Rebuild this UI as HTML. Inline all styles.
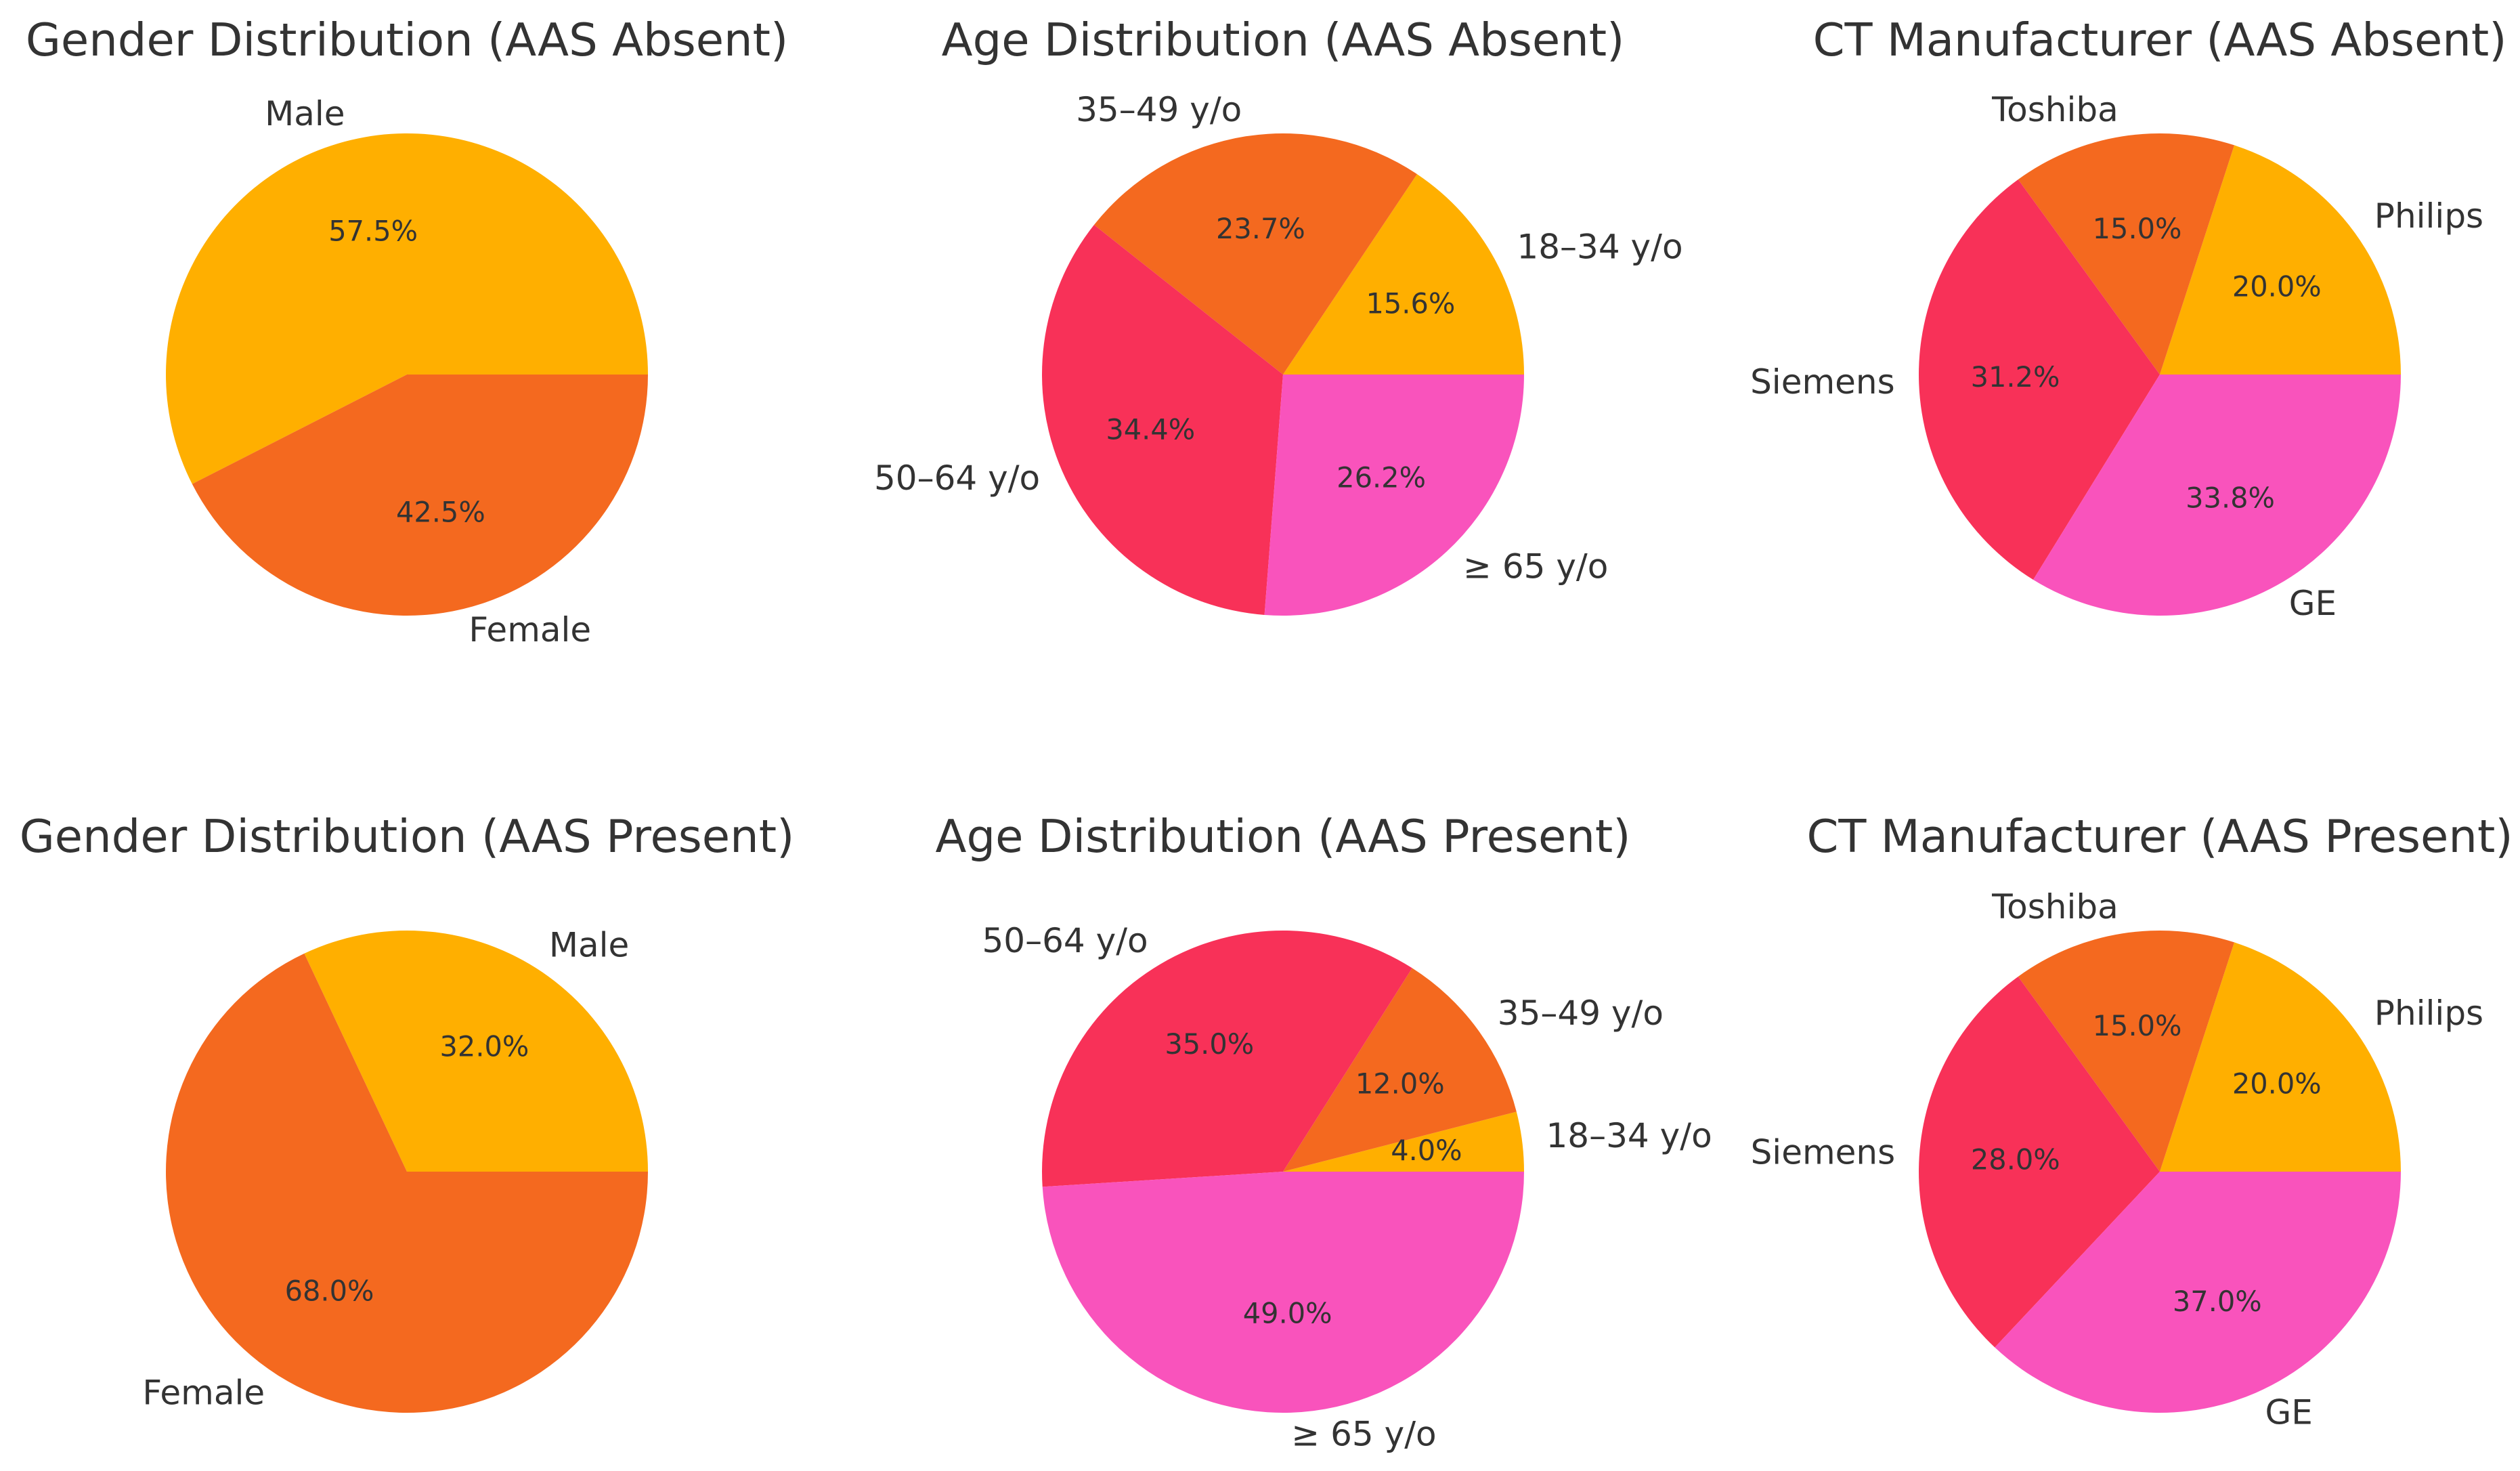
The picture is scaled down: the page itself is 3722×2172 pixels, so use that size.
<!DOCTYPE html>
<html lang="en">
<head>
<meta charset="utf-8">
<title>AAS distribution pie charts</title>
<style>
  html, body { margin: 0; padding: 0; background: #ffffff; }
  body { width: 3722px; height: 2172px; overflow: hidden; }
  svg { display: block; font-family: "DejaVu Sans", "Liberation Sans", sans-serif; }
  text { fill: #333333; }
  .title { font-size: 67.2px; text-anchor: middle; }
  .label { font-size: 50px; }
  .pct { font-size: 41.5px; text-anchor: middle; }
</style>
</head>
<body>
<svg id="figure" xmlns="http://www.w3.org/2000/svg" width="3722" height="2172" viewBox="0 0 3722 2172">
  <rect width="3722" height="2172" fill="#ffffff"/>
  <g id="gender-absent"><text class="title" x="601" y="82">Gender Distribution (AAS Absent)</text></g>
  <g id="age-absent"><text class="title" x="1895" y="82">Age Distribution (AAS Absent)</text></g>
  <g id="ct-absent"><text class="title" x="3190" y="82">CT Manufacturer (AAS Absent)</text></g>
  <g id="gender-present"><text class="title" x="601" y="1258">Gender Distribution (AAS Present)</text></g>
  <g id="age-present"><text class="title" x="1895" y="1258">Age Distribution (AAS Present)</text></g>
  <g id="ct-present"><text class="title" x="3190" y="1258">CT Manufacturer (AAS Present)</text></g>
</svg>
<script>
// Category names
const genderCategories = ['Male', 'Female'];
const ageCategories = ['18–34 y/o', '35–49 y/o', '50–64 y/o', '≥ 65 y/o'];
const ctCategories = ['Philips', 'Toshiba', 'Siemens', 'GE'];

// Series values (percent)
const genderAbsent = [57.5, 42.5];
const genderPresent = [32.0, 68.0];
const ageAbsent = [15.6, 23.7, 34.4, 26.2];
const agePresent = [4.0, 12.0, 35.0, 49.0];
const ctAbsent = [20.0, 15.0, 31.2, 33.8];
const ctPresent = [20.0, 15.0, 28.0, 37.0];

// Slice colours in category order
const sliceColors = ['#FFAF00', '#F4691F', '#F83158', '#F953BC'];

const SVG_NS = 'http://www.w3.org/2000/svg';
const RADIUS = 356;
const LABEL_DISTANCE = 1.1;
const PCT_DISTANCE = 0.6;
const LABEL_BASELINE = 13;
const PCT_BASELINE = 10;

function angleScale(values) {
  const total = values.reduce(function (a, b) { return a + b; }, 0);
  return function (v) { return (v / total) * 2 * Math.PI; };
}

function polar(cx, cy, r, angle) {
  return [cx + r * Math.cos(angle), cy - r * Math.sin(angle)];
}

function drawPie(groupId, cx, cy, categories, values) {
  const group = document.getElementById(groupId);
  const scale = angleScale(values);
  let start = 0;
  values.forEach(function (value, i) {
    const sweep = scale(value);
    const end = start + sweep;
    const p0 = polar(cx, cy, RADIUS, start);
    const p1 = polar(cx, cy, RADIUS, end);
    const large = sweep > Math.PI ? 1 : 0;

    const slice = document.createElementNS(SVG_NS, 'path');
    slice.setAttribute('d', 'M' + cx + ' ' + cy + ' L' + p0[0] + ' ' + p0[1] +
      ' A' + RADIUS + ' ' + RADIUS + ' 0 ' + large + ' 0 ' + p1[0] + ' ' + p1[1] + ' Z');
    slice.setAttribute('fill', sliceColors[i]);
    
    
    group.appendChild(slice);

    start = end;
  });

  start = 0;
  values.forEach(function (value, i) {
    const sweep = scale(value);
    const mid = start + sweep / 2;

    const lp = polar(cx, cy, RADIUS * LABEL_DISTANCE, mid);
    const label = document.createElementNS(SVG_NS, 'text');
    label.setAttribute('class', 'label');
    label.setAttribute('x', lp[0]);
    label.setAttribute('y', lp[1] + LABEL_BASELINE);
    label.setAttribute('text-anchor', lp[0] >= cx ? 'start' : 'end');
    label.textContent = categories[i];
    
    
    group.appendChild(label);

    const pp = polar(cx, cy, RADIUS * PCT_DISTANCE, mid);
    const pct = document.createElementNS(SVG_NS, 'text');
    pct.setAttribute('class', 'pct');
    pct.setAttribute('x', pp[0]);
    pct.setAttribute('y', pp[1] + PCT_BASELINE);
    pct.textContent = value.toFixed(1) + '%';
    
    
    group.appendChild(pct);

    start += sweep;
  });
}

drawPie('gender-absent', 601, 553, genderCategories, genderAbsent);
drawPie('age-absent', 1895, 553, ageCategories, ageAbsent);
drawPie('ct-absent', 3190, 553, ctCategories, ctAbsent);
drawPie('gender-present', 601, 1730, genderCategories, genderPresent);
drawPie('age-present', 1895, 1730, ageCategories, agePresent);
drawPie('ct-present', 3190, 1730, ctCategories, ctPresent);
</script>
</body>
</html>
